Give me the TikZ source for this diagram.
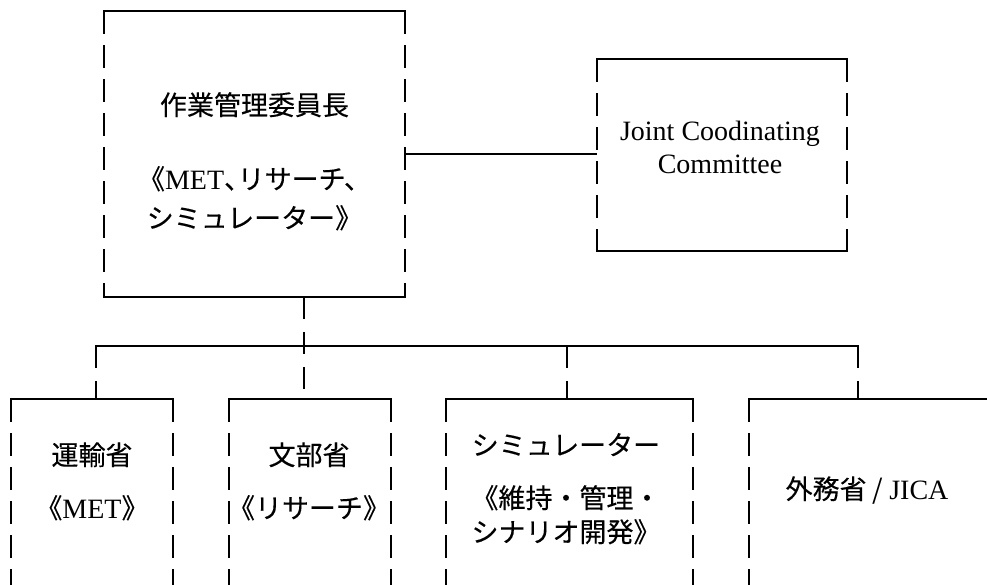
\documentclass[tikz,border=0pt]{standalone}
\usepackage{fontspec}
\setmainfont{Liberation Serif}
\newfontfamily\jpfont[FakeBold=0.2]{Noto Sans CJK JP}
\newfontfamily\jphalt[RawFeature=+halt,FakeBold=0.2]{Noto Sans CJK JP}
\newfontfamily\jpthin{Noto Sans CJK JP}
\newcommand{\jtxt}[1]{{\jpfont\fontsize{27}{32}\selectfont #1}}
\newcommand{\jhalf}[1]{{\jphalt\fontsize{27}{32}\selectfont #1}}
\newcommand{\jthin}[1]{{\jpthin\fontsize{27}{32}\selectfont #1}}
\begin{document}
\begin{tikzpicture}[x=1pt,y=-1pt,line width=1.7pt,
  box/.style={rectangle,inner sep=0pt,outer sep=0pt},
  side/.style={dash pattern=on 23pt off 11pt},
  conn/.style={dash pattern=on 22pt off 13pt},
  jtext/.style={font=\jpfont\fontsize{27}{32}\selectfont,anchor=base,inner sep=0pt},
  ltext/.style={font=\fontsize{28}{33}\selectfont,anchor=base,inner sep=0pt}]
\useasboundingbox (0,0) rectangle (987,584);
\clip (0,0) rectangle (987,584);

% boxes
\node[box,minimum width=301pt,minimum height=286pt] (chief) at (254.5,154) {};
\node[box,minimum width=250pt,minimum height=192pt] (jcc) at (722,155) {};
\node[box,minimum width=162pt,minimum height=250pt] (met) at (92,524) {};
\node[box,minimum width=162pt,minimum height=250pt] (mext) at (310,524) {};
\node[box,minimum width=247pt,minimum height=250pt] (sim) at (569.5,524) {};
\node[box,minimum width=241pt,minimum height=250pt] (mofa) at (869.5,524) {};

\foreach \b in {chief,jcc,met,mext,sim,mofa}{
  \draw[line cap=rect] (\b.north west) -- (\b.north east);
  \draw[line cap=rect] (\b.south west) -- (\b.south east);
  \draw[side] (\b.north west) -- (\b.south west);
  \draw[side] (\b.north east) -- (\b.south east);
}

% texts
\node[jtext] (chiefA) at (254.5,115) {作業管理委員長};
\node[ltext] (chiefB) at (254.5,189) {\jtxt{《}MET\jhalf{、}\jtxt{リサーチ、}};
\node[jtext] (chiefC) at (254.5,228) {シミュレーター》};
\node[ltext] (jccA) at (720,140) {Joint Coodinating};
\node[ltext] (jccB) at (720,173) {Committee};
\node[jtext] (metA) at (92,465) {運輸省};
\node[ltext] (metB) at (92,518) {\jtxt{《}MET\jtxt{》}};
\node[jtext] (mextA) at (309,465) {文部省};
\node[jtext] (mextB) at (309,518) {《リサーチ》};
\node[jtext] (simA) at (566,455) {シミュレーター};
\node[jtext] (simB) at (566,508) {《維持・管理・};
\node[jtext] (simC) at (566,542) {シナリオ開発》};
\node[ltext] (mofaA) at (867,499) {\jtxt{外務省}\jthin{ / }JICA};

% connectors
\draw (chief.east) -- (chief.east -| jcc.west);
\coordinate (d1) at (96,346);
\coordinate (d2) at (304,346);
\coordinate (d3) at (567,346);
\coordinate (d4) at (858,346);
\draw[line cap=rect] (d1) -- (d4);
\draw[conn] (d2 |- chief.south) -- (d2 |- mext.north);
\draw[conn] (d1) -- (d1 |- met.north);
\draw[conn] (d3) -- (d3 |- sim.north);
\draw[conn] (d4) -- (d4 |- mofa.north);
\end{tikzpicture}
\end{document}
